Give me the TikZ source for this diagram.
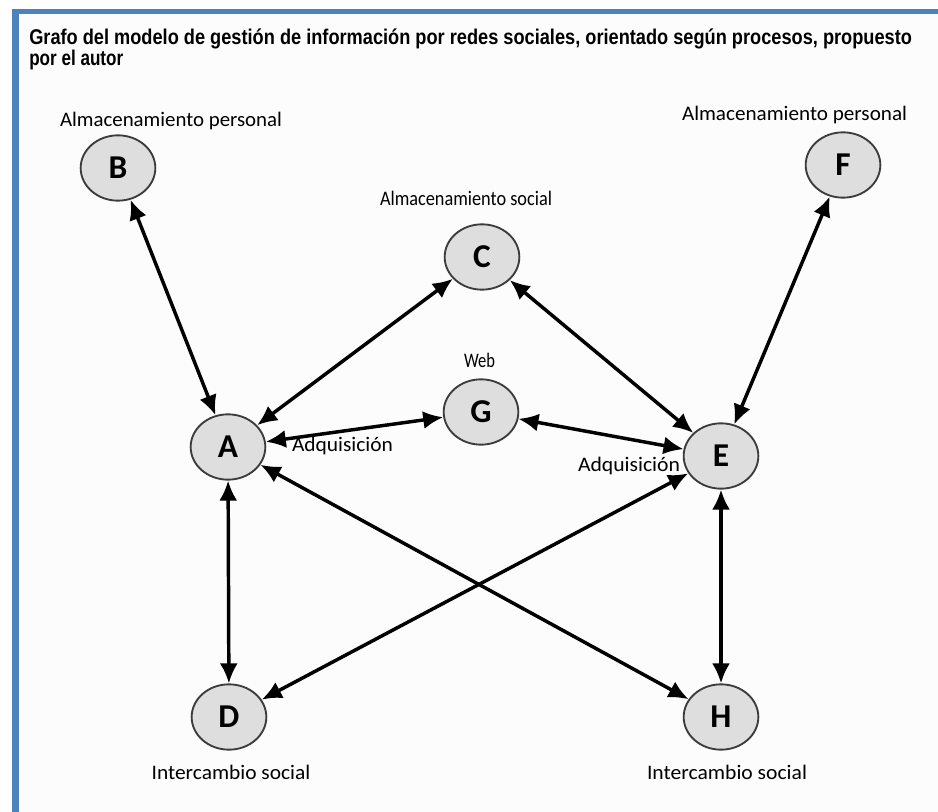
\documentclass[tikz,border=0pt]{standalone}
\usepackage{fontspec}
\setmainfont{Carlito}
\newfontfamily\titlefont{Liberation Sans}
\usetikzlibrary{shapes.geometric,arrows.meta}
\newcommand{\fitw}[2]{\resizebox{#1}{\height}{#2}}
\definecolor{frameblue}{RGB}{79,129,189}
\definecolor{nodefill}{RGB}{222,222,222}
\definecolor{nodeborder}{RGB}{60,60,60}
\definecolor{pagebg}{RGB}{252,252,252}
\begin{document}
\begin{tikzpicture}[x=0.75pt,y=-0.75pt,
  vertex/.style={ellipse, draw=nodeborder, line width=1.4pt, fill=nodefill,
    minimum width=56pt, minimum height=49pt, inner sep=0pt,
    font=\bfseries\fontsize{25}{25}\selectfont},
  link/.style={line width=2.6pt, {Latex[length=15pt,width=13.5pt]}-{Latex[length=15pt,width=13.5pt]}},
  lbl/.style={anchor=base, inner sep=0pt, font=\fontsize{15.5}{15.5}\selectfont},
  ttl/.style={anchor=base west, inner sep=0pt, font=\titlefont\bfseries\fontsize{16}{16}\selectfont}]
\useasboundingbox (0,0) rectangle (938,812);
\fill[white] (0,0) rectangle (938,812);
\fill[pagebg] (19,14) rectangle (938,812);
\fill[frameblue] (12,9) rectangle (938,14);
\fill[frameblue] (12,9) rectangle (19,812);

% title
\node[ttl] (t1) at (29,45) {\fitw{662pt}{Grafo del modelo de gestión de información por redes sociales, orientado según procesos, propuesto}};
\node[ttl] (t2) at (29,66) {\fitw{70.5pt}{por el autor}};

% vertices
\node[vertex] (A) at (228,447) {A};
\node[vertex] (B) at (118,168) {B};
\node[vertex] (C) at (482,257) {C};
\node[vertex] (D) at (229,717) {D};
\node[vertex] (E) at (721,456) {E};
\node[vertex] (F) at (843,165) {F};
\node[vertex] (G) at (481,412) {G};
\node[vertex] (H) at (721,717) {H};

% labels
\node[lbl] (lB) at (171,127) {\fitw{166.5pt}{Almacenamiento personal}};
\node[lbl] (lF) at (794.5,121) {\fitw{168.75pt}{Almacenamiento personal}};
\node[lbl] (lC) at (466,206) {\fitw{129pt}{Almacenamiento social}};
\node[lbl] (lG) at (479.5,368) {\fitw{23.25pt}{Web}};
\node[lbl] (lA) at (342.5,451) {\fitw{75.75pt}{Adquisición}};
\node[lbl] (lE) at (629,471) {\fitw{76.5pt}{Adquisición}};
\node[lbl] (lD) at (231,779) {\fitw{119pt}{Intercambio social}};
\node[lbl] (lH) at (727,779) {\fitw{120pt}{Intercambio social}};

% edges
\draw[link] (B) -- (A);
\draw[link] (A) -- (C);
\draw[link] (A) -- (G);
\draw[link] (G) -- (E);
\draw[link] (C) -- (E);
\draw[link] (F) -- (E);
\draw[link] (A) -- (D);
\draw[link] (E) -- (H);
\draw[link] (A) -- (H);
\draw[link] (E) -- (D);
\end{tikzpicture}
\end{document}
